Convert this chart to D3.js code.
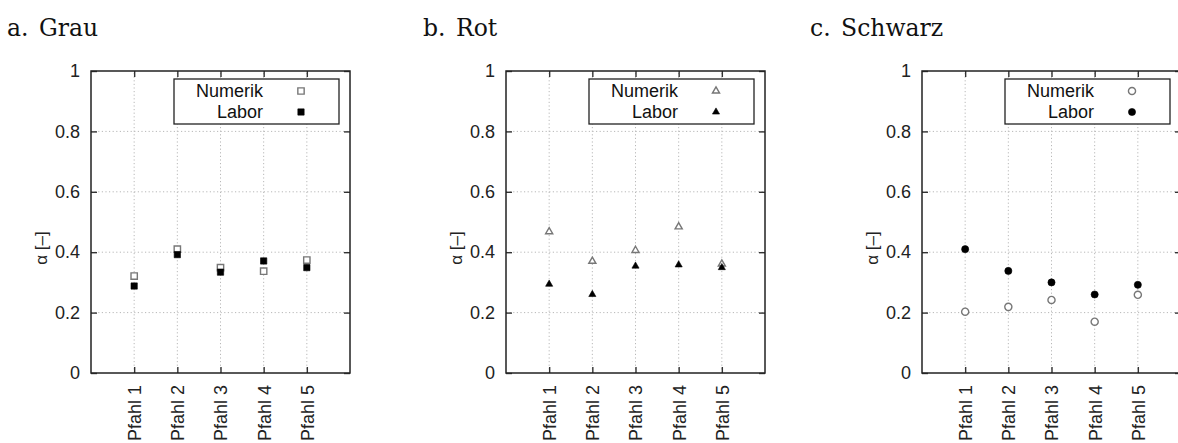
<!DOCTYPE html>
<html><head><meta charset="utf-8">
<script src="https://cdn.jsdelivr.net/npm/d3@7"></script>
<style>
html,body{margin:0;padding:0;background:#fff;overflow:hidden}
svg{display:block}
</style></head>
<body>
<script>
// ---- data ----
const categories = ["Pfahl 1","Pfahl 2","Pfahl 3","Pfahl 4","Pfahl 5"];
const yTicks = [0, 0.2, 0.4, 0.6, 0.8, 1];
const yTickLabels = ["0","0.2","0.4","0.6","0.8","1"];
const panelTitles = ["a. Grau","b. Rot","c. Schwarz"];
const seriesNames = ["Numerik","Labor"];
const markerShapes = ["square","triangle","circle"];
const grauNumerik = [0.321, 0.410, 0.349, 0.337, 0.374];
const grauLabor   = [0.288, 0.392, 0.334, 0.371, 0.349];
const rotNumerik  = [0.468, 0.370, 0.406, 0.484, 0.361];
const rotLabor    = [0.294, 0.260, 0.354, 0.358, 0.349];
const schwarzNumerik = [0.203, 0.219, 0.242, 0.170, 0.259];
const schwarzLabor   = [0.410, 0.338, 0.300, 0.260, 0.292];
const yLabel = "α [–]";

const panels = [
  {title: panelTitles[0], shape: markerShapes[0], numerik: grauNumerik, labor: grauLabor},
  {title: panelTitles[1], shape: markerShapes[1], numerik: rotNumerik, labor: rotLabor},
  {title: panelTitles[2], shape: markerShapes[2], numerik: schwarzNumerik, labor: schwarzLabor}
];

const W = 1178, H = 443;
const svg = d3.select("body").append("svg").attr("width", W).attr("height", H);
const sans = "'Liberation Sans', Arial, Helvetica, sans-serif";
const serif = "'DejaVu Serif', 'Liberation Serif', serif";

const plotLefts = [91, 506, 922];
const titleX = [7, 423, 810];
const plotW = 259, plotTop = 71, plotBottom = 373;

function markerPath(shape, size) {
  const sym = shape === "square" ? d3.symbolSquare : shape === "triangle" ? d3.symbolTriangle : d3.symbolCircle;
  return d3.symbol().type(sym).size(size)();
}
const markerSize = {square: 40, triangle: 22, circle: 40};

panels.forEach((p, i) => {
  const L = plotLefts[i];
  const x = d3.scaleLinear().domain([0, 6]).range([L, L + plotW]);
  const y = d3.scaleLinear().domain([0, 1]).range([plotBottom, plotTop]);
  const g = svg.append("g");

  // title
  g.append("text").attr("x", titleX[i]).attr("y", 36)
    .attr("font-family", serif).attr("font-size", 23.5).attr("fill", "#111")
    .attr("word-spacing", 3)
    .text(p.title);

  // grid
  const grid = g.append("g").attr("stroke", "#b8b8b8").attr("stroke-width", 1)
    .attr("stroke-dasharray", "1.2,2.4");
  yTicks.filter(v => v > 0 && v < 1).forEach(v => {
    grid.append("line").attr("x1", x(0)).attr("x2", x(6)).attr("y1", y(v)).attr("y2", y(v));
  });
  categories.forEach((c, k) => {
    grid.append("line").attr("x1", x(k + 1)).attr("x2", x(k + 1)).attr("y1", y(0)).attr("y2", y(1));
  });

  // legend box
  const lgR = x(6) - 11, lgL = lgR - 165, lgT = 79, lgB = 124;
  g.append("rect").attr("x", lgL).attr("y", lgT).attr("width", lgR - lgL).attr("height", lgB - lgT)
    .attr("fill", "#fff").attr("stroke", "#222").attr("stroke-width", 1.3);

  // axes (d3 axes, inward ticks, mirrored)
  const axStyle = sel => {
    sel.select(".domain").remove();
    sel.selectAll(".tick line").attr("stroke", "#333").attr("stroke-width", 1.4);
    sel.selectAll("text").attr("font-family", sans).attr("font-size", 18).attr("fill", "#222");
  };
  const gl = g.append("g").attr("transform", `translate(${x(0)},0)`)
    .call(d3.axisLeft(y).tickValues(yTicks).tickFormat((d, k) => yTickLabels[k]).tickSizeInner(-6).tickPadding(11));
  axStyle(gl);
  gl.selectAll("text").attr("x", -11);
  const gr = g.append("g").attr("transform", `translate(${x(6)},0)`)
    .call(d3.axisRight(y).tickValues(yTicks).tickFormat("").tickSizeInner(-6));
  axStyle(gr);
  const gb = g.append("g").attr("transform", `translate(0,${y(0)})`)
    .call(d3.axisBottom(x).tickValues([1,2,3,4,5]).tickFormat((d) => categories[d - 1]).tickSizeInner(-6));
  axStyle(gb);
  gb.selectAll("text").attr("transform", "rotate(-90)").attr("text-anchor", "end")
    .attr("x", -12).attr("y", 0).attr("dy", "0.36em");
  const gt = g.append("g").attr("transform", `translate(0,${y(1)})`)
    .call(d3.axisTop(x).tickValues([1,2,3,4,5]).tickFormat("").tickSizeInner(-6));
  axStyle(gt);

  // frame
  g.append("rect").attr("x", x(0)).attr("y", y(1)).attr("width", x(6) - x(0)).attr("height", y(0) - y(1))
    .attr("fill", "none").attr("stroke", "#222").attr("stroke-width", 1.5);

  // y label
  g.append("text").attr("transform", `translate(${L - 44},${(plotTop + plotBottom) / 2 + 26}) rotate(-90)`)
    .attr("text-anchor", "middle").attr("font-family", sans).attr("font-size", 17).attr("fill", "#222")
    .text(yLabel);

  // markers
  const path = markerPath(p.shape, markerSize[p.shape]);
  const styleNum = s => s.attr("fill", "#fff").attr("stroke", "#777").attr("stroke-width", 1.4);
  const styleLab = s => s.attr("fill", "#000").attr("stroke", "#000").attr("stroke-width", 0.6);
  g.append("g").selectAll("path").data(p.numerik).join("path")
    .attr("d", path).attr("transform", (d, k) => `translate(${x(k + 1)},${y(d)})`).call(styleNum);
  g.append("g").selectAll("path").data(p.labor).join("path")
    .attr("d", path).attr("transform", (d, k) => `translate(${x(k + 1)},${y(d)})`).call(styleLab);

  // legend entries
  const rows = [{name: seriesNames[0], yy: 91, st: styleNum}, {name: seriesNames[1], yy: 112, st: styleLab}];
  rows.forEach(r => {
    g.append("text").attr("x", lgL + 89).attr("y", r.yy).attr("dy", "0.36em")
      .attr("text-anchor", "end").attr("font-family", sans).attr("font-size", 18).attr("fill", "#111")
      .text(r.name);
    g.append("path").attr("d", path).attr("transform", `translate(${lgL + 127},${r.yy})`).call(r.st);
  });
});
</script>
</body></html>
